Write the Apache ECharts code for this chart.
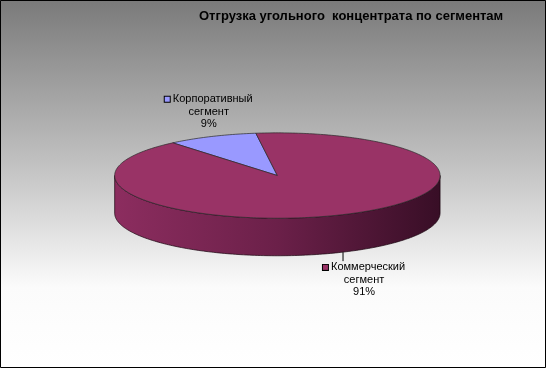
<!DOCTYPE html>
<html><head><meta charset="utf-8">
<script src="https://cdn.jsdelivr.net/npm/echarts@6/dist/echarts.min.js"></script>
<style>html,body{margin:0;padding:0;background:#fff;}#c{width:546px;height:368px;}</style>
</head><body><div id="c"></div>
<script>
// ---- data ----
const categories = ['Корпоративный сегмент', 'Коммерческий сегмент'];
const values = [9, 91];
const chartTitle = 'Отгрузка угольного  концентрата по сегментам';

// ---- style ----
const topColors = ['#9999ff', '#993366'];
const sideStops = [
  [{offset:0,color:'#7b7bcc'},{offset:1,color:'#33335a'}],
  [{offset:0,color:'#8c2d5f'},{offset:0.5,color:'#6b2049'},{offset:1,color:'#380e26'}]
];
const FONT = '"Liberation Sans", Arial, sans-serif';

const total = values.reduce((a, b) => a + b, 0);
const geo = {cxr: 0.508, cyr: 0.477, rxr: 0.298, ryr: 0.116, depthr: 0.102, start: -130};

function renderItem(params, api) {
  const W = api.getWidth(), H = api.getHeight();
  const cx = W * geo.cxr, cy = H * geo.cyr, rx = W * geo.rxr, ry = H * geo.ryr, depth = H * geo.depthr;
  const i = params.dataIndex;
  let before = 0;
  for (let k = 0; k < i; k++) before += values[k];
  const a0 = geo.start + before / total * 360;
  const a1 = a0 + values[i] / total * 360;
  const rad = a => a * Math.PI / 180;
  const pt = (a, dy) => [cx + rx * Math.cos(rad(a)), cy + ry * Math.sin(rad(a)) + (dy || 0)];
  const children = [];
  // side walls (front half only)
  for (let k = -1; k <= 1; k++) {
    const s = Math.max(a0, k * 360), e = Math.min(a1, k * 360 + 180);
    if (e > s) {
      const pts = [];
      for (let a = s; a < e; a += 1) pts.push(pt(a, 0));
      pts.push(pt(e, 0));
      for (let a = e; a > s; a -= 1) pts.push(pt(a, depth));
      pts.push(pt(s, depth));
      children.push({
        type: 'polygon', z2: 1,
        shape: {points: pts},
        style: {
          fill: {type: 'linear', x: cx - rx, y: 0, x2: cx + rx, y2: 0, global: true, colorStops: sideStops[i]},
          stroke: '#1a0610', lineWidth: 0.7
        }
      });
    }
  }
  // top face
  const tp = [[cx, cy]];
  for (let a = a0; a < a1; a += 1) tp.push(pt(a, 0));
  tp.push(pt(a1, 0));
  children.push({
    type: 'polygon', z2: 5,
    shape: {points: tp},
    style: {fill: topColors[i], stroke: '#2a2a2a', lineWidth: 0.7}
  });
  // label
  const mid = (a0 + a1) / 2;
  const front = Math.sin(rad(mid)) > 0;
  const pct = Math.round(values[i] / total * 100);
  const words = categories[i].split(' ');
  const txt = '{sq|}{t| ' + words[0] + '}\n' + words.slice(1).join(' ') + '\n' + pct + '%';
  const rich = {
    sq: {width: 5, height: 5, backgroundColor: topColors[i], borderColor: '#000', borderWidth: 1},
    t: {fontFamily: FONT, fontSize: 11, color: '#000'}
  };
  if (front) {
    const p = pt(mid, depth);
    children.push({type: 'line', z2: 6, shape: {x1: p[0], y1: p[1], x2: p[0], y2: p[1] + 9}, style: {stroke: '#000', lineWidth: 1}});
    children.push({type: 'text', z2: 6, x: p[0] + 21, y: p[1] + 9,
      style: {text: txt, rich, fontFamily: FONT, fontSize: 11, fill: '#000', align: 'center', verticalAlign: 'top', lineHeight: 12.5}});
  } else {
    const p = pt(mid, 0);
    children.push({type: 'text', z2: 6, x: p[0] - 3, y: p[1] - 6,
      style: {text: txt, rich, fontFamily: FONT, fontSize: 11, fill: '#000', align: 'center', verticalAlign: 'bottom', lineHeight: 12.5}});
  }
  return {type: 'group', children};
}

const chart = echarts.init(document.getElementById('c'), null, {renderer: 'canvas'});
chart.setOption({
  animation: false,
  title: {
    text: chartTitle, left: 199, top: 10, padding: 0,
    textStyle: {fontFamily: FONT, fontSize: 13, fontWeight: 'bold', color: '#000'}
  },
  graphic: [
    {type: 'rect', z: -10, shape: {x: 0, y: 0, width: 546, height: 368},
      style: {fill: {type: 'linear', x: 0, y: 0, x2: 0, y2: 1, colorStops: [
        {offset: 0, color: '#7a7a7a'}, {offset: 0.45, color: '#c2c2c2'}, {offset: 0.78, color: '#fbfbfb'}, {offset: 1, color: '#ffffff'}]}}},
    {type: 'rect', z: 100, shape: {x: 0.5, y: 0.5, width: 545, height: 367},
      style: {fill: 'none', stroke: '#000', lineWidth: 1}}
  ],
  series: [{
    type: 'custom',
    coordinateSystem: 'none',
    renderItem: renderItem,
    data: values.map((v, i) => ({name: categories[i], value: v}))
  }]
});
</script></body></html>
